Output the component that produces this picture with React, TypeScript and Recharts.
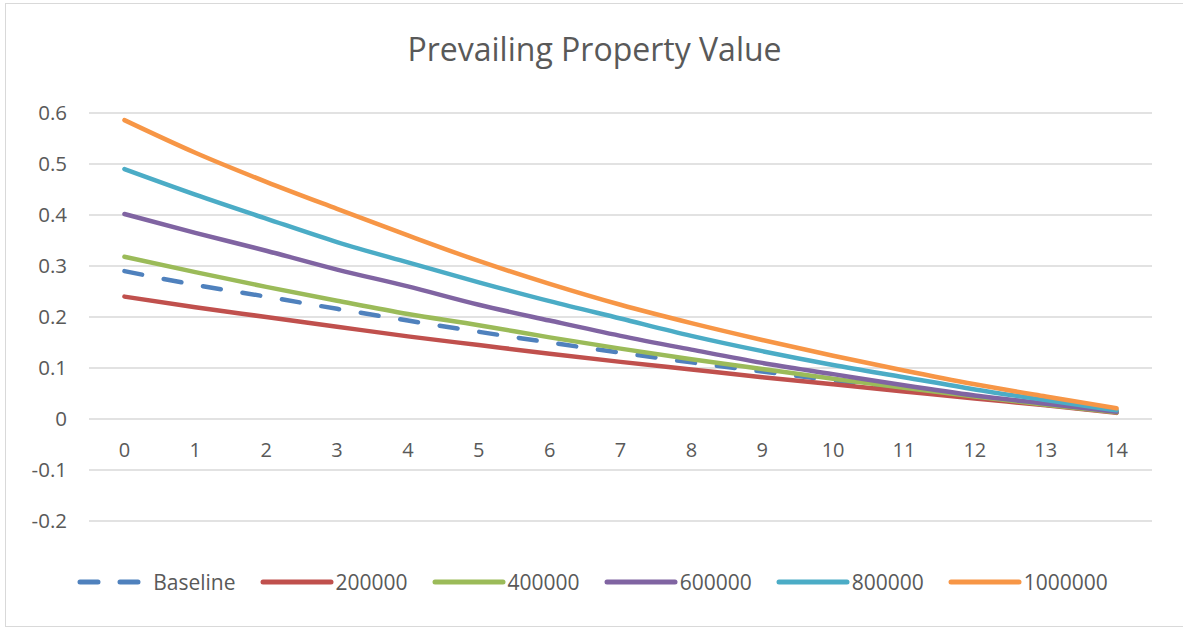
import React from "react";
import { LineChart, Line, XAxis, YAxis, CartesianGrid } from "recharts";

const periods = [0, 1, 2, 3, 4, 5, 6, 7, 8, 9, 10, 11, 12, 13, 14];

const baseline = [0.29, 0.263, 0.24, 0.216, 0.193, 0.171, 0.15, 0.13, 0.111, 0.093, 0.076, 0.059, 0.043, 0.028, 0.013];
const v200000 = [0.24, 0.219, 0.2, 0.181, 0.162, 0.145, 0.128, 0.112, 0.097, 0.082, 0.068, 0.054, 0.04, 0.027, 0.012];
const v400000 = [0.318, 0.288, 0.259, 0.232, 0.206, 0.184, 0.16, 0.138, 0.117, 0.098, 0.079, 0.061, 0.044, 0.028, 0.013];
const v600000 = [0.402, 0.365, 0.33, 0.293, 0.26, 0.224, 0.193, 0.163, 0.136, 0.11, 0.088, 0.066, 0.046, 0.03, 0.014];
const v800000 = [0.49, 0.44, 0.393, 0.347, 0.307, 0.268, 0.231, 0.197, 0.163, 0.133, 0.106, 0.082, 0.058, 0.037, 0.017];
const v1000000 = [0.586, 0.522, 0.465, 0.412, 0.36, 0.31, 0.265, 0.224, 0.188, 0.155, 0.124, 0.095, 0.068, 0.044, 0.021];

const yTicks = [-0.2, -0.1, 0, 0.1, 0.2, 0.3, 0.4, 0.5, 0.6];

const series = [
  { key: "Baseline", values: baseline, color: "#4F81BD", dashed: true },
  { key: "200000", values: v200000, color: "#C0504D", dashed: false },
  { key: "400000", values: v400000, color: "#9BBB59", dashed: false },
  { key: "600000", values: v600000, color: "#8064A2", dashed: false },
  { key: "800000", values: v800000, color: "#4BACC6", dashed: false },
  { key: "1000000", values: v1000000, color: "#F79646", dashed: false },
];

const data = periods.map((p, i) => {
  const row: { [k: string]: number } = { period: p };
  series.forEach((s) => {
    row[s.key] = s.values[i];
  });
  return row;
});

const FONT = "'Open Sans', Lato, sans-serif";
const TEXT = "#595959";

// category labels sit just under the zero line, like Excel does
function XTick(props: any) {
  const { x, y, payload } = props;
  return (
    <text x={x} y={y - 72} textAnchor="middle" fill={TEXT} fontSize={20} fontFamily={FONT}>
      {payload.value}
    </text>
  );
}

function ChartLegend() {
  return (
    <div
      style={{
        position: "absolute",
        left: 0,
        top: 568,
        width: 1185,
        display: "flex",
        justifyContent: "center",
        alignItems: "center",
        fontFamily: FONT,
        fontSize: 21,
        color: TEXT,
        lineHeight: "28px",
      }}
    >
      {series.map((s, i) => (
        <div key={s.key} style={{ display: "flex", alignItems: "center", marginLeft: i === 0 ? 0 : 24 }}>
          <svg width={74} height={10} style={{ marginRight: 2 }}>
            <line
              x1={3}
              y1={5}
              x2={71}
              y2={5}
              stroke={s.color}
              strokeWidth={5}
              strokeLinecap="round"
              strokeDasharray={s.dashed ? "18 22" : undefined}
            />
          </svg>
          <span>{s.key}</span>
        </div>
      ))}
    </div>
  );
}

export default function App() {
  return (
    <div style={{ position: "relative", width: 1183, height: 627, background: "#fff", overflow: "hidden" }}>
      <style>{"body{margin:0}"}</style>
      <div
        style={{
          position: "absolute",
          left: 5,
          top: 3,
          width: 1190,
          height: 624,
          border: "1px solid #D9D9D9",
          boxSizing: "border-box",
        }}
      />
      <div
        style={{
          position: "absolute",
          left: 0,
          top: 28,
          width: 1189,
          textAlign: "center",
          fontFamily: FONT,
          fontSize: 32,
          color: TEXT,
          lineHeight: "42px",
        }}
      >
        Prevailing Property Value
      </div>
      <LineChart
        width={1183}
        height={627}
        data={data}
        margin={{ top: 113, right: 31, bottom: 0, left: 29 }}
        style={{ position: "absolute", left: 0, top: 0 }}
      >
        <CartesianGrid vertical={false} stroke="#D9D9D9" strokeWidth={1.3} />
        <XAxis
          dataKey="period"
          type="number"
          domain={[-0.5, 14.5]}
          ticks={periods}
          axisLine={false}
          tickLine={false}
          tick={<XTick />}
          height={106}
          interval={0}
        />
        <YAxis
          domain={[-0.2, 0.6]}
          ticks={yTicks}
          axisLine={false}
          tickLine={false}
          width={60}
          tickMargin={16}
          tick={{ fill: TEXT, fontSize: 20.5, fontFamily: FONT }}
        />
        {series.map((s) => (
          <Line
            key={s.key}
            dataKey={s.key}
            stroke={s.color}
            strokeWidth={4.5}
            strokeLinecap="round"
            strokeDasharray={s.dashed ? "18 22" : undefined}
            dot={false}
            activeDot={false}
            type="monotone"
            isAnimationActive={false}
          />
        ))}
      </LineChart>
      <ChartLegend />
    </div>
  );
}
